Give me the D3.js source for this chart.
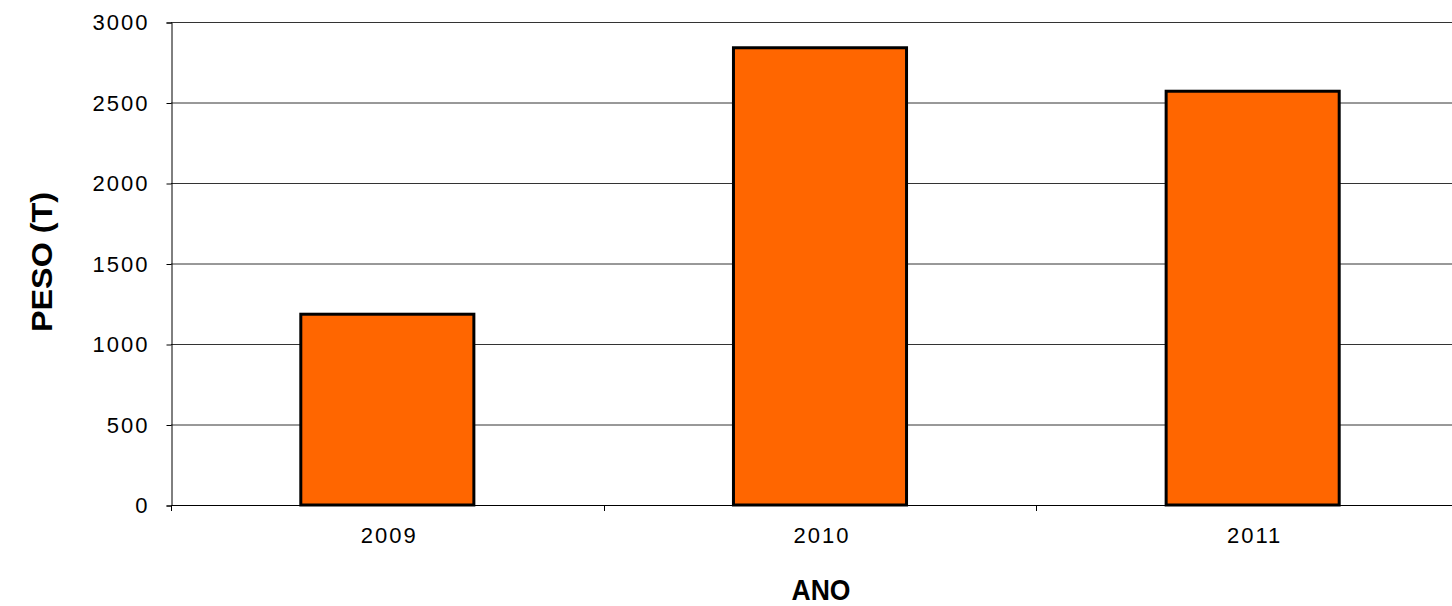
<!DOCTYPE html>
<html><head><meta charset="utf-8">
<script src="https://cdn.jsdelivr.net/npm/d3@7"></script>
<style>body{margin:0;background:#fff}svg{display:block}text{font-family:"Liberation Sans",Arial,sans-serif}</style>
</head><body>
<svg id="c" width="1452" height="606"></svg>
<script>
const categories = ["2009", "2010", "2011"];
const values = [1185, 2840, 2570];
const yTicks = [0, 500, 1000, 1500, 2000, 2500, 3000];

(function () {
const svg = d3.select("#c");
const pl = 171, pr = 1469, pt = 22, pb = 505;
const x = d3.scaleBand().domain(categories).range([pl, pr]).paddingInner(0.6).paddingOuter(0.3);
const y = d3.scaleLinear().domain([0, 3000]).range([pb, pt]);
const FF = '"Liberation Sans",Arial,sans-serif';

// gridlines
svg.append("g").selectAll("line").data(yTicks).join("line")
  .attr("x1", pl).attr("x2", 1452)
  .attr("y1", d => y(d) + 0.5).attr("y2", d => y(d) + 0.5)
  .attr("stroke", "#333").attr("stroke-width", 1);

// y axis
const ya = svg.append("g").attr("transform", `translate(${pl + 0.5},0.5)`)
  .call(d3.axisLeft(y).tickValues(yTicks).tickSize(5).tickPadding(17).tickFormat(d3.format("d")));
ya.select(".domain").attr("stroke", "#000");
ya.selectAll(".tick line").attr("stroke", "#000");
ya.selectAll("text").attr("font-size", 22).attr("fill", "#000").attr("font-family", FF)
  .attr("letter-spacing", "2px");

// bars
svg.append("g").selectAll("rect").data(values).join("rect")
  .attr("x", (d, i) => x(categories[i]))
  .attr("y", d => y(d))
  .attr("width", x.bandwidth())
  .attr("height", d => y(0) - y(d))
  .attr("fill", "#FF6600").attr("stroke", "#000").attr("stroke-width", 3);

// x axis
const xa = svg.append("g").attr("transform", `translate(2,${pb + 0.5})`)
  .call(d3.axisBottom(x).tickSize(0).tickPadding(22));
xa.select(".domain").remove();
xa.selectAll("text").attr("font-size", 22).attr("fill", "#000").attr("font-family", FF)
  .attr("letter-spacing", "2px");
// category separator ticks
const sepX = categories.map((c) => x(c) - x.step() * x.paddingInner() / 2);
sepX.push(x(categories[2]) + x.bandwidth() + x.step() * x.paddingInner() / 2);
svg.append("g").selectAll("line").data(sepX).join("line")
  .attr("x1", d => Math.round(d) + 0.5).attr("x2", d => Math.round(d) + 0.5)
  .attr("y1", pb).attr("y2", pb + 6)
  .attr("stroke", "#000");
svg.append("line").attr("x1", pl).attr("x2", 1452).attr("y1", pb + 0.5).attr("y2", pb + 0.5).attr("stroke", "#000");

// titles
svg.append("text").attr("x", 821).attr("y", 600).attr("text-anchor", "middle")
  .attr("font-size", 30).attr("font-weight", "bold")
  .attr("textLength", 59).attr("lengthAdjust", "spacingAndGlyphs").text("ANO");
svg.append("text").attr("transform", "translate(52,262) rotate(-90)").attr("text-anchor", "middle")
  .attr("font-size", 30).attr("font-weight", "bold")
  .attr("textLength", 140).attr("lengthAdjust", "spacingAndGlyphs").text("PESO (T)");
})();
</script>
</body></html>
